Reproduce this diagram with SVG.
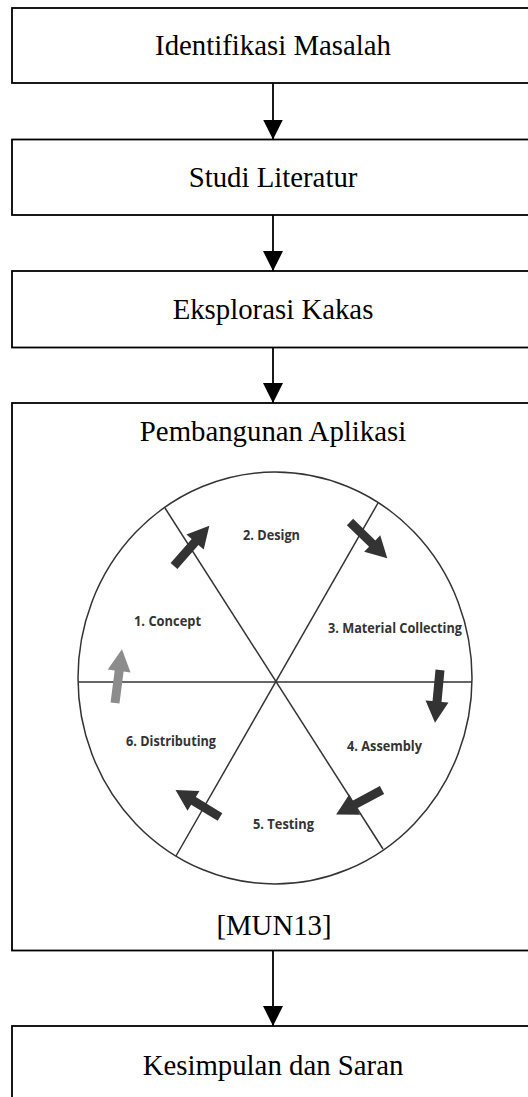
<svg xmlns="http://www.w3.org/2000/svg" width="528" height="1097" viewBox="0 0 528 1097">
<style>
.box{fill:#fff;stroke:#000;stroke-width:1.8}
.t{font-family:"Liberation Serif","Times New Roman",serif;font-size:28.8px;fill:#000;text-anchor:middle}
.lbl{font-family:"Open Sans","Liberation Sans",sans-serif;font-weight:bold;font-size:14px;fill:#333}
.cyc{fill:none;stroke:#333;stroke-width:1.5}
.con{stroke:#000;stroke-width:1.8;fill:none}
.ba{fill:#333}
.bg{fill:#8c8c8c}
</style>
<defs>
<polygon id="blk" points="0,-4.5 31,-4.5 31,-11.5 52,0 31,11.5 31,4.5 0,4.5"/>
<marker id="ah" markerUnits="userSpaceOnUse" markerWidth="20" markerHeight="20" refX="20" refY="10" orient="auto" viewBox="0 0 20 20">
<polygon points="0,0 20,10 0,20" fill="#000"/>
</marker>
</defs>
<g id="n1">
<rect class="box" x="12" y="8" width="522" height="75"/>
<text class="t" x="273" y="55">Identifikasi Masalah</text>
</g>
<g id="n2">
<rect class="box" x="12" y="139.5" width="522" height="75.5"/>
<text class="t" x="273" y="187">Studi Literatur</text>
</g>
<g id="n3">
<rect class="box" x="12" y="271" width="522" height="76.5"/>
<text class="t" x="273" y="319">Eksplorasi Kakas</text>
</g>
<g id="n4">
<rect class="box" x="12" y="403" width="522" height="547.5"/>
<text class="t" x="273" y="441">Pembangunan Aplikasi</text>
<text class="t" x="274" y="935">[MUN13]</text>
<g id="cycle">
<ellipse class="cyc" cx="275" cy="678" rx="197" ry="206"/>
<line class="cyc" x1="78" y1="682" x2="472" y2="682"/>
<line class="cyc" x1="165" y1="508" x2="383" y2="849"/>
<line class="cyc" x1="378" y1="503" x2="176" y2="856"/>
<use href="#blk" class="ba" transform="translate(174,566) rotate(-48.7) scale(1.03,1)"/>
<use href="#blk" class="ba" transform="translate(350,522) rotate(44.2)"/>
<use href="#blk" class="ba" transform="translate(440,670) rotate(95.4) scale(1.02,1)"/>
<use href="#blk" class="ba" transform="translate(382,790) rotate(151.9)"/>
<use href="#blk" class="ba" transform="translate(220,817) rotate(211.2)"/>
<use href="#blk" class="bg" transform="translate(115,703) rotate(-82.6) scale(1.04,1)"/>
<text class="lbl" x="243" y="540" textLength="57" lengthAdjust="spacingAndGlyphs">2. Design</text>
<text class="lbl" x="134" y="626" textLength="67" lengthAdjust="spacingAndGlyphs">1. Concept</text>
<text class="lbl" x="328" y="633" textLength="134" lengthAdjust="spacingAndGlyphs">3. Material Collecting</text>
<text class="lbl" x="347" y="751" textLength="75" lengthAdjust="spacingAndGlyphs">4. Assembly</text>
<text class="lbl" x="126" y="746" textLength="90" lengthAdjust="spacingAndGlyphs">6. Distributing</text>
<text class="lbl" x="253" y="829" textLength="61" lengthAdjust="spacingAndGlyphs">5. Testing</text>
</g>
</g>
<g id="n5">
<rect class="box" x="12" y="1026" width="522" height="90"/>
<text class="t" x="273" y="1075">Kesimpulan dan Saran</text>
</g>
<g id="connectors">
<line class="con" x1="273" y1="83" x2="273" y2="139.5" marker-end="url(#ah)"/>
<line class="con" x1="273" y1="215" x2="273" y2="271" marker-end="url(#ah)"/>
<line class="con" x1="273" y1="347.5" x2="273" y2="403" marker-end="url(#ah)"/>
<line class="con" x1="273" y1="950.5" x2="273" y2="1026" marker-end="url(#ah)"/>
</g>
</svg>
